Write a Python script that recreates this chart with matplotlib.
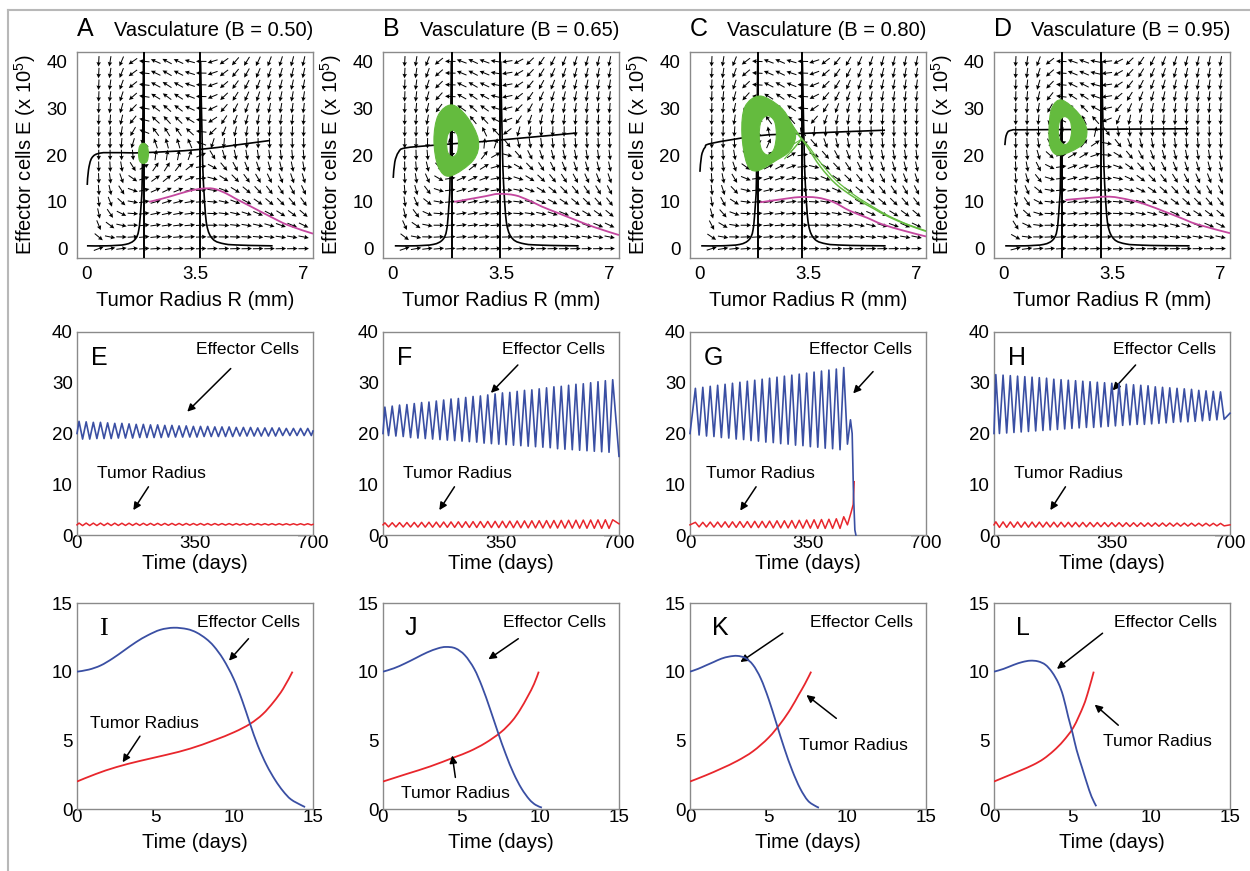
import numpy as np
import matplotlib
matplotlib.use('Agg')
import matplotlib.pyplot as plt
from matplotlib.path import Path
from matplotlib.patches import PathPatch
from matplotlib.lines import Line2D

plt.rcParams['font.family'] = ['Liberation Sans', 'DejaVu Sans']
plt.rcParams['mathtext.fontset'] = 'custom'
plt.rcParams['mathtext.rm'] = 'Liberation Sans'

# ------------------------------------------------------------------ data
top_letters = ['A', 'B', 'C', 'D']
mid_letters = ['E', 'F', 'G', 'H']
bot_letters = ['I', 'J', 'K', 'L']
B_labels = ['0.50', '0.65', '0.80', '0.95']

R_ticks = [0, 3.5, 7]
R_tick_labels = ['0', '3.5', '7']
E_ticks = [0, 10, 20, 30, 40]
t_mid_ticks = [0, 350, 700]
t_bot_ticks = [0, 5, 10, 15]

# vertical nullclines (asymptotes)
R_left = [1.86, 1.92, 1.9, 1.9]
R_right = [3.66, 3.47, 3.3, 3.15]

# near-horizontal nullcline
null_R = [[0.03, 0.07, 0.18, 0.44, 1.0, 1.86, 3.66, 5.92],
          [0.03, 0.08, 0.2, 0.41, 1.37, 2.77, 3.47, 5.94],
          [0.02, 0.07, 0.18, 0.4, 1.89, 3.3, 5.98],
          [0.05, 0.1, 0.27, 1.0, 5.95]]
null_E = [[13.6, 16.8, 19.4, 20.4, 20.5, 20.5, 21.2, 23.1],
          [15.1, 18.5, 20.6, 21.5, 22.1, 22.8, 23.2, 24.7],
          [16.4, 19.8, 21.6, 22.5, 24.1, 24.6, 25.3],
          [22.1, 24.3, 25.3, 25.4, 25.6]]

# lower nullcline branches, as distance from the asymptote
branch_gap_left = [1.84, 1.2, 0.6, 0.3, 0.17, 0.1, 0.06, 0.02]
branch_E_left = [0.6, 0.6, 0.9, 1.9, 4.0, 9.0, 15.0, 40.0]
branch_gap_right = [0.02, 0.08, 0.13, 0.22, 0.42, 0.8, 1.3, 1.9, 2.9]
branch_E_right = [40.0, 20.0, 12.0, 5.0, 2.0, 1.0, 0.75, 0.65, 0.6]
branch_R_end = 6.0

# green limit-cycle band (outer / inner boundary)
ring_out_R = [[1.84, 1.96, 2.0, 1.96, 1.84, 1.72, 1.68, 1.72],
              [1.91, 2.4, 2.77, 2.61, 1.86, 1.48, 1.34, 1.48],
              [1.95, 2.6, 2.95, 3.1, 2.9, 2.49, 1.85, 1.53, 1.37, 1.47],
              [1.88, 2.42, 2.69, 2.52, 1.83, 1.53, 1.47, 1.56]]
ring_out_E = [[22.5, 21.9, 20.3, 18.7, 18.2, 18.7, 20.3, 21.9],
              [30.7, 28.2, 23.2, 18.9, 15.5, 17.5, 23.2, 28.5],
              [32.6, 30.3, 27.0, 23.9, 20.8, 18.9, 16.6, 18.2, 24.6, 30.3],
              [31.75, 28.9, 25.3, 22.1, 20.0, 21.4, 25.3, 30.0]]
ring_in_R = [[],
             [1.94, 2.09, 2.13, 2.09, 1.94, 1.79, 1.75, 1.79],
             [2.2, 2.42, 2.48, 2.4, 2.2, 2.0, 1.93, 1.99],
             [1.98, 2.15, 2.2, 2.14, 1.98, 1.82, 1.77, 1.82]]
ring_in_E = [[],
             [25.3, 24.4, 22.5, 20.5, 19.6, 20.5, 22.5, 24.4],
             [28.4, 27.2, 24.2, 21.2, 20.0, 21.2, 24.2, 27.2],
             [28.2, 27.3, 25.2, 23.1, 22.2, 23.1, 25.2, 27.3]]

# escaping green trajectory in panel C
tailC_R = [3.3, 3.5, 3.9, 4.4, 5.0, 5.6, 6.1, 6.7, 7.3]
tailC_E = [23.4, 21.5, 17.5, 13.8, 10.9, 8.6, 6.8, 5.1, 3.7]
tailC_E2 = [23.4, 22.0, 18.4, 14.6, 11.4, 8.9, 7.0, 5.2, 3.8]
fanC_R = [2.6, 2.85, 3.0, 3.05, 2.95, 2.75]
fanC_E = [30.0, 27.8, 25.6, 22.4, 20.6, 19.2]

# magenta trajectory
mag_R = [[2.02, 2.4, 2.83, 3.3, 3.7, 4.1, 4.5, 4.8, 5.3, 5.85, 6.5, 7.3],
         [1.99, 2.5, 3.0, 3.42, 3.95, 4.4, 4.81, 5.3, 5.87, 6.5, 7.3],
         [1.96, 2.6, 3.21, 3.79, 4.3, 4.84, 5.4, 5.89, 6.6, 7.3],
         [2.0, 2.7, 3.42, 4.07, 4.6, 5.16, 5.7, 6.24, 7.3]]
mag_E = [[10.0, 10.6, 11.4, 12.3, 12.8, 12.8, 11.8, 10.7, 9.0, 7.1, 5.0, 3.2],
         [10.0, 10.6, 11.2, 11.7, 11.4, 10.3, 9.0, 7.7, 6.2, 4.6, 2.9],
         [9.9, 10.5, 11.0, 10.9, 10.0, 8.1, 6.6, 5.2, 3.8, 2.6],
         [10.4, 10.8, 11.1, 10.4, 9.4, 8.0, 6.6, 5.2, 3.3]]

# ---- long-time series (middle row): oscillation extremes
osc_period = [21.2, 21.8, 22.0, 21.5]
osc_first_peak = [6.0, 5.5, 16.0, 5.4]
E_peaks = [
    [22.4, 22.3, 22.2, 22.2, 22.1, 22.0, 22.0, 21.9, 21.8, 21.8, 21.7, 21.7, 21.6, 21.6, 21.5, 21.5, 21.4,
     21.4, 21.4, 21.3, 21.3, 21.3, 21.2, 21.2, 21.2, 21.1, 21.1, 21.1, 21.1, 21.0, 21.0, 21.0, 21.0],
    [25.2, 25.4, 25.6, 25.7, 25.9, 26.1, 26.2, 26.4, 26.6, 26.8, 26.9, 27.1, 27.3, 27.4, 27.6, 27.8,
     28.0, 28.1, 28.3, 28.5, 28.6, 28.8, 29.0, 29.2, 29.3, 29.5, 29.7, 29.8, 30.0, 30.2, 30.4, 30.6],
    [28.9, 29.1, 29.3, 29.5, 29.7, 29.9, 30.1, 30.3, 30.5, 30.7, 30.9, 31.1, 31.3, 31.5, 31.7, 31.9,
     32.1, 32.3, 32.5, 32.7, 33.0],
    [31.6, 31.5, 31.4, 31.3, 31.2, 31.1, 31.0, 30.9, 30.7, 30.6, 30.5, 30.4, 30.3, 30.2, 30.1, 30.0,
     29.9, 29.8, 29.7, 29.6, 29.5, 29.4, 29.2, 29.1, 29.0, 28.9, 28.8, 28.7, 28.5, 28.4, 28.3, 28.2]]
E_troughs = [
    [18.9, 18.9, 19.0, 19.0, 19.0, 19.1, 19.1, 19.1, 19.2, 19.2, 19.2, 19.2, 19.3, 19.3, 19.3, 19.3, 19.3,
     19.4, 19.4, 19.4, 19.4, 19.4, 19.5, 19.5, 19.5, 19.5, 19.5, 19.5, 19.6, 19.6, 19.6, 19.6, 19.6],
    [19.6, 19.5, 19.4, 19.2, 19.1, 19.0, 18.9, 18.8, 18.7, 18.6, 18.5, 18.4, 18.3, 18.1, 18.0, 17.9,
     17.8, 17.7, 17.6, 17.5, 17.4, 17.3, 17.2, 17.0, 16.9, 16.8, 16.7, 16.6, 16.5, 16.4, 16.3],
    [19.7, 19.5, 19.4, 19.2, 19.1, 18.9, 18.8, 18.6, 18.5, 18.3, 18.2, 18.0, 17.9, 17.7, 17.6, 17.4,
     17.3, 17.1, 17.0, 16.8],
    [20.0, 20.1, 20.2, 20.3, 20.4, 20.5, 20.6, 20.7, 20.8, 20.9, 21.0, 21.1, 21.2, 21.2, 21.3, 21.4,
     21.5, 21.6, 21.7, 21.8, 21.8, 21.9, 22.0, 22.1, 22.2, 22.3, 22.3, 22.4, 22.5, 22.6, 22.7, 22.8]]
R_peaks = [
    [2.35, 2.35, 2.34, 2.34, 2.33, 2.33, 2.32, 2.32, 2.31, 2.31, 2.3, 2.3, 2.29, 2.29, 2.28, 2.28, 2.27,
     2.27, 2.26, 2.26, 2.25, 2.25, 2.25, 2.24, 2.24, 2.24, 2.23, 2.23, 2.23, 2.22, 2.22, 2.22, 2.22],
    [2.4, 2.42, 2.44, 2.46, 2.48, 2.5, 2.52, 2.54, 2.56, 2.58, 2.6, 2.62, 2.64, 2.66, 2.68, 2.7,
     2.72, 2.74, 2.76, 2.78, 2.8, 2.82, 2.84, 2.86, 2.88, 2.9, 2.92, 2.94, 2.96, 2.98, 3.0, 3.0],
    [2.5, 2.5, 2.55, 2.55, 2.6, 2.6, 2.65, 2.65, 2.7, 2.7, 2.75, 2.8, 2.8, 2.85, 2.9, 2.95,
     3.0, 3.05, 3.1, 3.2, 3.6],
    [2.6, 2.59, 2.58, 2.57, 2.56, 2.55, 2.54, 2.53, 2.52, 2.51, 2.5, 2.49, 2.48, 2.47, 2.46, 2.45,
     2.44, 2.43, 2.42, 2.41, 2.4, 2.39, 2.38, 2.37, 2.36, 2.35, 2.34, 2.33, 2.32, 2.31, 2.3, 2.29]]
R_troughs = [
    [1.85, 1.86, 1.86, 1.87, 1.87, 1.88, 1.88, 1.89, 1.89, 1.9, 1.9, 1.91, 1.91, 1.92, 1.92, 1.93, 1.93,
     1.94, 1.94, 1.95, 1.95, 1.95, 1.96, 1.96, 1.96, 1.97, 1.97, 1.97, 1.98, 1.98, 1.98, 1.98, 1.98],
    [1.6, 1.59, 1.58, 1.57, 1.56, 1.55, 1.54, 1.53, 1.52, 1.51, 1.5, 1.49, 1.48, 1.47, 1.46, 1.45,
     1.44, 1.43, 1.42, 1.41, 1.4, 1.39, 1.38, 1.37, 1.36, 1.35, 1.34, 1.33, 1.32, 1.31, 1.3],
    [1.6, 1.6, 1.55, 1.55, 1.5, 1.5, 1.5, 1.45, 1.45, 1.45, 1.4, 1.4, 1.4, 1.35, 1.35, 1.35,
     1.3, 1.3, 1.3, 1.3],
    [1.5, 1.51, 1.52, 1.53, 1.54, 1.55, 1.56, 1.57, 1.58, 1.59, 1.6, 1.61, 1.62, 1.63, 1.64, 1.65,
     1.66, 1.67, 1.68, 1.69, 1.7, 1.71, 1.72, 1.73, 1.74, 1.75, 1.76, 1.77, 1.78, 1.79, 1.8, 1.8]]
E_start = [20.0, 20.0, 20.0, 20.0]
R_start = [2.0, 2.0, 2.0, 2.0]
# tails after the last regular extreme (time, value)
E_tail_t = [[700], [700], [467, 476, 481, 485, 489, 492], [700]]
E_tail_v = [[20.5], [15.5], [17.9, 22.7, 20.0, 8.0, 1.0, 0.0], [24.0]]
R_tail_t = [[700], [700], [467, 478, 484, 487], [700]]
R_tail_v = [[2.1], [2.2], [2.0, 4.5, 6.0, 10.5], [2.0]]

# ---- short-time series (bottom row)
tE_bot = [[0, 0.75, 1.5, 2.25, 3, 3.75, 4.5, 5.3, 6.15, 7, 7.6, 8.2, 8.7, 9.3, 9.95, 10.5, 11, 11.5,
           12.05, 12.6, 13.1, 13.6, 14.3, 14.5],
          [0, 0.7, 1.4, 2.1, 2.8, 3.5, 4.0, 4.6, 5.2, 5.8, 6.3, 6.8, 7.3, 7.8, 8.3, 8.8, 9.3, 9.7, 10.1],
          [0, 0.5, 1.0, 1.5, 2.0, 2.5, 3.0, 3.5, 4.0, 4.5, 5.0, 5.5, 6.0, 6.5, 7.0, 7.5, 8.0, 8.2],
          [0, 0.6, 1.26, 1.8, 2.3, 2.8, 3.27, 3.7, 4.1, 4.4, 4.72, 5.0, 5.25, 5.6, 5.9, 6.2, 6.5]]
vE_bot = [[10.0, 10.15, 10.45, 10.95, 11.55, 12.15, 12.65, 13.05, 13.2, 13.1, 12.85, 12.4, 11.85, 10.9,
           9.5, 7.9, 6.2, 4.6, 3.2, 2.1, 1.3, 0.7, 0.25, 0.15],
          [10.0, 10.25, 10.6, 11.0, 11.4, 11.7, 11.8, 11.7, 11.2, 10.2, 8.9, 7.3, 5.6, 4.0, 2.6, 1.5, 0.7, 0.3, 0.1],
          [10.0, 10.2, 10.45, 10.7, 10.95, 11.1, 11.15, 11.0, 10.5, 9.5, 8.0, 6.2, 4.4, 2.8, 1.5, 0.6, 0.2, 0.1],
          [10.0, 10.2, 10.5, 10.7, 10.8, 10.75, 10.5, 9.95, 9.15, 8.2, 6.7, 5.5, 4.3, 3.0, 1.9, 0.9, 0.2]]
tR_bot = [[0, 1.2, 2.5, 4.0, 5.7, 7.2, 8.7, 10.0, 11.0, 11.8, 12.5, 13.1, 13.7],
          [0, 1.5, 3.0, 4.5, 5.5, 6.5, 7.5, 8.2, 8.7, 9.2, 9.6, 9.9],
          [0, 1.0, 2.0, 3.0, 4.0, 5.0, 5.8, 6.4, 6.9, 7.3, 7.7],
          [0, 0.8, 1.68, 2.5, 3.15, 3.8, 4.4, 5.05, 5.68, 6.0, 6.34]]
vR_bot = [[2.0, 2.55, 3.05, 3.5, 3.95, 4.4, 5.0, 5.6, 6.2, 6.9, 7.8, 8.75, 10.0],
          [2.0, 2.55, 3.1, 3.75, 4.2, 4.8, 5.6, 6.4, 7.2, 8.2, 9.1, 10.0],
          [2.0, 2.45, 2.95, 3.5, 4.2, 5.2, 6.3, 7.3, 8.3, 9.1, 10.0],
          [2.0, 2.38, 2.8, 3.22, 3.65, 4.25, 4.95, 5.95, 7.5, 8.6, 10.0]]

# ------------------------------------------------------------------ layout
W, H = 1250, 871
fig = plt.figure(figsize=(W / 100, H / 100), dpi=100)
col_left = [77, 383, 690, 994]
col_w = 236
row_tb = [(52, 258), (332, 535), (603, 809)]
spine_col = '#8a8a8a'
blue = '#3a4fa3'
red = '#e8262c'
green = '#64bb3e'
magenta = '#c4479f'
FS_TICK = 13.5
FS_LAB = 14.5
FS_ANN = 12.5

def make_ax(c, r):
    t, b = row_tb[r]
    ax = fig.add_axes([col_left[c] / W, 1 - b / H, col_w / W, (b - t) / H])
    for s in ax.spines.values():
        s.set_color(spine_col)
        s.set_linewidth(1.0)
    return ax

def closed_curve(R, E):
    P = np.column_stack([R, E])
    n = len(P)
    verts = [P[0]]
    codes = [Path.MOVETO]
    for i in range(n):
        p0, p1, p2, p3 = P[i - 1], P[i], P[(i + 1) % n], P[(i + 2) % n]
        verts += [p1 + (p2 - p0) / 6.0, p2 - (p3 - p1) / 6.0, p2]
        codes += [Path.CURVE4] * 3
    return verts, codes

def curve(x, y):
    P = np.column_stack([x, y])
    n = len(P)
    verts = [P[0]]
    codes = [Path.MOVETO]
    for i in range(n - 1):
        p0 = P[max(i - 1, 0)]
        p1, p2 = P[i], P[i + 1]
        p3 = P[min(i + 2, n - 1)]
        verts += [p1 + (p2 - p0) / 6.0, p2 - (p3 - p1) / 6.0, p2]
        codes += [Path.CURVE4] * 3
    return Path(verts, codes)

def arrow(ax, tail, head):
    ax.annotate('', xy=head, xytext=tail,
                arrowprops=dict(arrowstyle='-|>', color='k', lw=1.1, mutation_scale=11,
                                shrinkA=0, shrinkB=0))

xl_top = (-0.3, 7.3)
yl_top = (-2.0, 42.0)
R_grid = np.linspace(0.4, 7.0, 19)
E_grid = np.linspace(0.0, 40.0, 17)

for i in range(4):
    ax = make_ax(i, 0)
    ax.set_xlim(*xl_top)
    ax.set_ylim(*yl_top)
    ax.set_xticks(R_ticks)
    ax.set_xticklabels(R_tick_labels)
    ax.set_yticks(E_ticks)
    ax.tick_params(length=0, labelsize=FS_TICK)
    ax.tick_params(axis='x', pad=6)
    ax.tick_params(axis='y', pad=7)
    ax.set_xlabel('Tumor Radius R (mm)', fontsize=FS_LAB)
    ax.xaxis.set_label_coords(0.5, -0.16)
    ax.set_ylabel('Effector cells E (x 10$^{\\mathrm{5}}$)', fontsize=FS_LAB)
    ax.yaxis.set_label_coords(-0.165, 0.5)
    ax.text(0.0, 1.078, top_letters[i], transform=ax.transAxes, fontsize=18,
            ha='left', va='baseline')
    ax.text(1.0, 1.078, 'Vasculature (B = %s)' % B_labels[i], transform=ax.transAxes,
            fontsize=FS_LAB, ha='right', va='baseline')

    # direction field
    r1, r2 = R_left[i], R_right[i]
    RR, EE = np.meshgrid(R_grid, E_grid)
    g = np.interp(RR, null_R[i], null_E[i])
    dR = RR * (g - EE)
    dE = 5.0 * (0.6 * r1 * r2 + EE * (RR - r1) * (r2 - RR))
    sx = col_w / (xl_top[1] - xl_top[0])
    sy = (row_tb[0][1] - row_tb[0][0]) / (yl_top[1] - yl_top[0])
    dx, dy = dR * sx, dE * sy
    nrm = np.hypot(dx, dy) + 1e-12
    L = 10.5
    ax.quiver(RR, EE, dx / nrm * L, dy / nrm * L, angles='uv', scale_units='dots', scale=1,
              units='dots', width=1.0, headwidth=4.5, headlength=4.5, headaxislength=4.0,
              pivot='middle', color='k', zorder=2)

    # nullclines
    ax.axvline(r1, color='k', lw=1.4, zorder=3)
    ax.axvline(r2, color='k', lw=1.4, zorder=3)
    ax.add_patch(PathPatch(curve(null_R[i], null_E[i]), fc='none', ec='k', lw=1.2, zorder=3))
    bl_R = r1 - np.array(branch_gap_left)
    ax.add_patch(PathPatch(curve(bl_R, branch_E_left), fc='none', ec='k', lw=1.2, zorder=3))
    br_R = r2 + np.array(branch_gap_right)
    keep = br_R < branch_R_end
    brR = list(br_R[keep]) + [branch_R_end]
    brE = list(np.array(branch_E_right)[keep]) + [branch_E_right[-1]]
    ax.add_patch(PathPatch(curve(brR, brE), fc='none', ec='k', lw=1.2, zorder=3))

    # green band
    v_o, c_o = closed_curve(ring_out_R[i], ring_out_E[i])
    verts, codes = list(v_o), list(c_o)
    if ring_in_R[i]:
        v_i, c_i = closed_curve(ring_in_R[i][::-1], ring_in_E[i][::-1])
        verts += list(v_i)
        codes += list(c_i)
    ax.add_patch(PathPatch(Path(verts, codes), fc=green, ec=green, lw=0.8, zorder=4))
    if i == 2:
        for rs, es in zip(fanC_R, fanC_E):
            ax.plot([rs, tailC_R[0]], [es, tailC_E[0]], color=green, lw=0.8, zorder=4)
        ax.add_patch(PathPatch(curve(tailC_R, tailC_E), fc='none', ec=green, lw=1.1, zorder=4))
        ax.add_patch(PathPatch(curve(tailC_R, tailC_E2), fc='none', ec=green, lw=0.9, zorder=4))
    # magenta trajectory
    ax.add_patch(PathPatch(curve(mag_R[i], mag_E[i]), fc='none', ec=magenta, lw=1.3, zorder=5))

# middle row
mid_text = {
    0: dict(ec_txt=(506, 36.5), ec_tail=(456, 32.8), ec_head=(327, 24.3),
            tr_txt=(222, 12.2), tr_tail=(212, 9.5), tr_head=(167, 4.9)),
    1: dict(ec_txt=(506, 36.5), ec_tail=(400, 33.5), ec_head=(320, 28.0),
            tr_txt=(222, 12.2), tr_tail=(212, 9.5), tr_head=(167, 4.9)),
    2: dict(ec_txt=(506, 36.5), ec_tail=(543, 32.2), ec_head=(484, 27.9),
            tr_txt=(209, 12.2), tr_tail=(196, 9.5), tr_head=(149, 4.8)),
    3: dict(ec_txt=(506, 36.5), ec_tail=(420, 33.5), ec_head=(352, 28.5),
            tr_txt=(222, 12.2), tr_tail=(212, 9.5), tr_head=(167, 4.9)),
}

def osc_series(i, start, pk, tr, tail_t, tail_v):
    P = osc_period[i]
    t0 = osc_first_peak[i]
    vals = [start]
    tims = [0.0]
    k = 0
    for j in range(len(pk)):
        vals.append(pk[j]); tims.append(t0 + k * P / 2); k += 1
        if j < len(tr):
            vals.append(tr[j]); tims.append(t0 + k * P / 2); k += 1
    for tt, vv in zip(tail_t, tail_v):
        if tt > tims[-1]:
            tims.append(tt); vals.append(vv)
    return tims, vals

for i in range(4):
    ax = make_ax(i, 1)
    ax.set_xlim(0, 700)
    ax.set_ylim(0, 40)
    ax.set_xticks(t_mid_ticks)
    ax.set_yticks(E_ticks)
    ax.tick_params(length=0, labelsize=FS_TICK)
    ax.tick_params(axis='x', pad=0)
    ax.tick_params(axis='y', pad=3)
    ax.set_xlabel('Time (days)', fontsize=FS_LAB)
    ax.xaxis.set_label_coords(0.5, -0.095)
    tE, vE = osc_series(i, E_start[i], E_peaks[i], E_troughs[i], E_tail_t[i], E_tail_v[i])
    tR, vR = osc_series(i, R_start[i], R_peaks[i], R_troughs[i], R_tail_t[i], R_tail_v[i])
    ax.plot(tR, vR, color=red, lw=1.1, zorder=3, clip_on=False)
    ax.plot(tE, vE, color=blue, lw=1.2, zorder=4, clip_on=False)
    ax.text(0.06, 0.837, mid_letters[i], transform=ax.transAxes, fontsize=18,
            ha='left', va='baseline')
    d = mid_text[i]
    ax.text(*d['ec_txt'], 'Effector Cells', fontsize=FS_ANN, ha='center', va='center')
    arrow(ax, d['ec_tail'], d['ec_head'])
    ax.text(*d['tr_txt'], 'Tumor Radius', fontsize=FS_ANN, ha='center', va='center')
    arrow(ax, d['tr_tail'], d['tr_head'])

bot_text = {
    0: dict(ec_txt=(10.9, 13.6), ec_tail=(10.9, 12.4), ec_head=(9.66, 10.8),
            tr_txt=(4.3, 6.2), tr_tail=(4.0, 5.3), tr_head=(2.9, 3.4)),
    1: dict(ec_txt=(10.9, 13.6), ec_tail=(8.6, 12.4), ec_head=(6.7, 10.9),
            tr_txt=(4.6, 1.1), tr_tail=(4.6, 2.3), tr_head=(4.4, 3.9)),
    2: dict(ec_txt=(10.9, 13.6), ec_tail=(5.9, 12.8), ec_head=(3.2, 10.7),
            tr_txt=(10.4, 4.6), tr_tail=(9.3, 6.6), tr_head=(7.4, 8.3)),
    3: dict(ec_txt=(10.9, 13.6), ec_tail=(6.9, 12.8), ec_head=(4.0, 10.2),
            tr_txt=(10.4, 4.9), tr_tail=(7.9, 6.1), tr_head=(6.4, 7.6)),
}

for i in range(4):
    ax = make_ax(i, 2)
    ax.set_xlim(0, 15)
    ax.set_ylim(0, 15)
    ax.set_xticks(t_bot_ticks)
    ax.set_yticks(t_bot_ticks)
    ax.tick_params(length=0, labelsize=FS_TICK)
    ax.tick_params(axis='x', pad=0)
    ax.tick_params(axis='y', pad=3)
    ax.set_xlabel('Time (days)', fontsize=FS_LAB)
    ax.xaxis.set_label_coords(0.5, -0.115)
    ax.add_patch(PathPatch(curve(tR_bot[i], vR_bot[i]), fc='none', ec=red, lw=1.3, zorder=3))
    ax.add_patch(PathPatch(curve(tE_bot[i], vE_bot[i]), fc='none', ec=blue, lw=1.3, zorder=4))
    if i == 0:
        ax.text(0.095, 0.845, 'I', transform=ax.transAxes, fontsize=19,
                family=['Liberation Serif', 'DejaVu Serif'], ha='left', va='baseline')
    else:
        ax.text(0.092, 0.845, bot_letters[i], transform=ax.transAxes, fontsize=18,
                ha='left', va='baseline')
    d = bot_text[i]
    ax.text(*d['ec_txt'], 'Effector Cells', fontsize=FS_ANN, ha='center', va='center')
    arrow(ax, d['ec_tail'], d['ec_head'])
    ax.text(*d['tr_txt'], 'Tumor Radius', fontsize=FS_ANN, ha='center', va='center')
    arrow(ax, d['tr_tail'], d['tr_head'])

# outer frame (left and top edges)
fig.add_artist(Line2D([8 / W, 8 / W], [0, 1 - 10 / H], transform=fig.transFigure,
                      color='#b8b8b8', lw=1.5))
fig.add_artist(Line2D([8 / W, 1.0], [1 - 10 / H, 1 - 10 / H], transform=fig.transFigure,
                      color='#b8b8b8', lw=1.5))

fig.savefig('out.png', dpi=100, facecolor='white')
